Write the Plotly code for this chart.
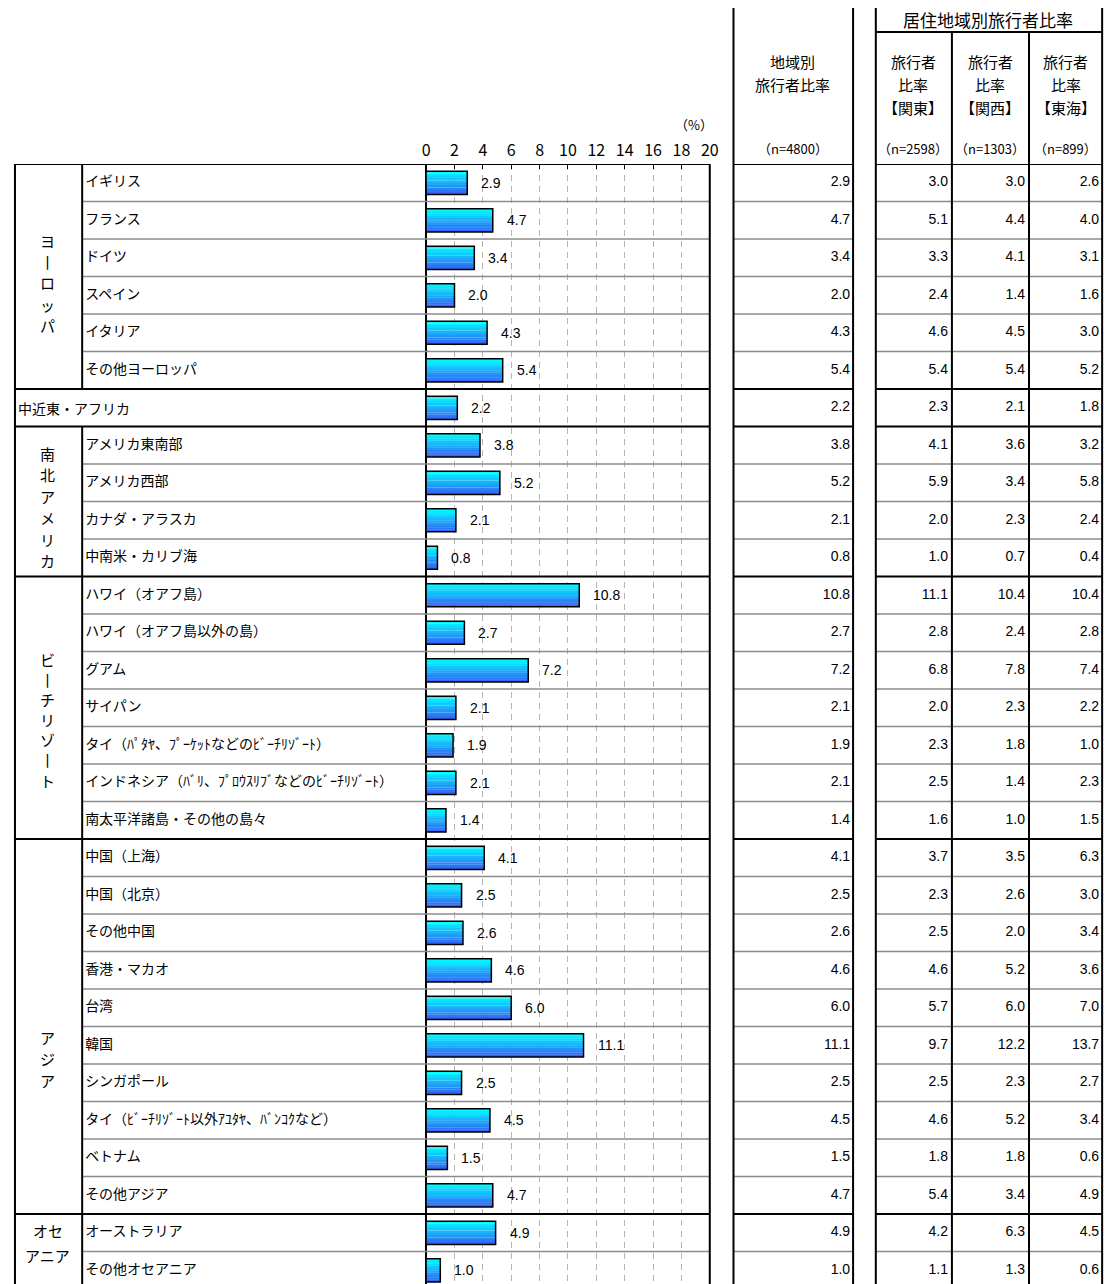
import plotly.graph_objects as go

# ---------------- data ----------------
items = [
    "イギリス", "フランス", "ドイツ", "スペイン", "イタリア", "その他ヨーロッパ",
    "中近東・アフリカ",
    "アメリカ東南部", "アメリカ西部", "カナダ・アラスカ", "中南米・カリブ海",
    "ハワイ（オアフ島）", "ハワイ（オアフ島以外の島）", "グアム", "サイパン",
    "タイ（ﾊﾟﾀﾔ、ﾌﾟｰｹｯﾄなどのﾋﾞｰﾁﾘｿﾞｰﾄ）",
    "インドネシア（ﾊﾞﾘ、ﾌﾟﾛｳｽﾘﾌﾞなどのﾋﾞｰﾁﾘｿﾞｰﾄ）",
    "南太平洋諸島・その他の島々",
    "中国（上海）", "中国（北京）", "その他中国", "香港・マカオ", "台湾", "韓国",
    "シンガポール", "タイ（ﾋﾞｰﾁﾘｿﾞｰﾄ以外ｱﾕﾀﾔ、ﾊﾞﾝｺｸなど）", "ベトナム", "その他アジア",
    "オーストラリア", "その他オセアニア",
]
total = [2.9, 4.7, 3.4, 2.0, 4.3, 5.4, 2.2, 3.8, 5.2, 2.1, 0.8, 10.8, 2.7, 7.2, 2.1,
         1.9, 2.1, 1.4, 4.1, 2.5, 2.6, 4.6, 6.0, 11.1, 2.5, 4.5, 1.5, 4.7, 4.9, 1.0]
kanto = [3.0, 5.1, 3.3, 2.4, 4.6, 5.4, 2.3, 4.1, 5.9, 2.0, 1.0, 11.1, 2.8, 6.8, 2.0,
         2.3, 2.5, 1.6, 3.7, 2.3, 2.5, 4.6, 5.7, 9.7, 2.5, 4.6, 1.8, 5.4, 4.2, 1.1]
kansai = [3.0, 4.4, 4.1, 1.4, 4.5, 5.4, 2.1, 3.6, 3.4, 2.3, 0.7, 10.4, 2.4, 7.8, 2.3,
          1.8, 1.4, 1.0, 3.5, 2.6, 2.0, 5.2, 6.0, 12.2, 2.3, 5.2, 1.8, 3.4, 6.3, 1.3]
tokai = [2.6, 4.0, 3.1, 1.6, 3.0, 5.2, 1.8, 3.2, 5.8, 2.4, 0.4, 10.4, 2.8, 7.4, 2.2,
         1.0, 2.3, 1.5, 6.3, 3.0, 3.4, 3.6, 7.0, 13.7, 2.7, 3.4, 0.6, 4.9, 4.5, 0.6]

group_names = ["ヨーロッパ", "中近東・アフリカ", "南北アメリカ", "ビーチリゾート", "アジア", "オセアニア"]
group_first = [0, 6, 7, 11, 18, 28]
group_last = [5, 6, 10, 17, 27, 29]

tick_vals = list(range(0, 21, 2))
col_titles = [["旅行者", "比率", "【関東】"], ["旅行者", "比率", "【関西】"], ["旅行者", "比率", "【東海】"]]
col_n = ["（n=2598）", "（n=1303）", "（n=899）"]
total_title = ["地域別", "旅行者比率"]
total_n = "（n=4800）"
table2_title = "居住地域別旅行者比率"

# ---------------- layout constants (reference pixel space) ----------------
W, H = 1115, 1284
OFF = 8            # page body margin: figure pixel 0 == reference pixel 8
TOP = 164          # reference pixel of table top (row boundary -0.5)
ROW = 37.5         # pixel height of a row
n = len(items)
rows = list(range(n))
y_bottom = -0.5 + (H + OFF - TOP) / ROW

JP = "Noto Sans CJK JP"
NUM = "Liberation Sans"

def px(x):
    return (x - OFF) / W

def py(y):
    return 1 - (y - OFF) / H

fig = go.Figure()

# gradient bars: horizontal slices from cyan (top) to blue (bottom)
BW = 0.62
NS = 10
c0 = (0, 250, 255)
c1 = (50, 100, 245)
for k in range(NS):
    t = k / (NS - 1)
    col = "rgb(%d,%d,%d)" % tuple(round(c0[i] + (c1[i] - c0[i]) * t) for i in range(3))
    fig.add_trace(go.Bar(
        x=total, y=rows, orientation="h",
        width=BW / NS + 0.004, offset=-BW / 2 + k * BW / NS,
        marker=dict(color=col, line=dict(width=0)),
        hoverinfo="skip", showlegend=False, xaxis="x", yaxis="y",
    ))
# outline
fig.add_trace(go.Bar(
    x=total, y=rows, orientation="h", width=BW, offset=-BW / 2,
    marker=dict(color="rgba(0,0,0,0)", line=dict(color="black", width=1.5)),
    hoverinfo="skip", showlegend=False, xaxis="x", yaxis="y",
))

# table texts (x2 axis is in reference pixel units)
def add_text(xpix, vals, pos, font):
    fig.add_trace(go.Scatter(
        x=[xpix] * n, y=rows, text=vals, mode="text", textposition=pos,
        textfont=font, hoverinfo="skip", showlegend=False, xaxis="x2", yaxis="y",
    ))

item_text = [("" if i == 6 else items[i]) for i in rows]
numfont = dict(family=NUM, size=14, color="black")
add_text(82, item_text, "middle right", dict(family=JP, size=14, color="black"))
add_text(856, ["%.1f" % v for v in total], "middle left", numfont)
add_text(955, ["%.1f" % v for v in kanto], "middle left", numfont)
add_text(1033, ["%.1f" % v for v in kansai], "middle left", numfont)
add_text(1108, ["%.1f" % v for v in tokai], "middle left", numfont)

annotations = []
# bar value labels
for i, v in enumerate(total):
    annotations.append(dict(
        x=v, y=i, xref="x", yref="y", text="%.1f" % v, showarrow=False,
        xanchor="left", xshift=12, font=numfont,
    ))

def head(x, y, text, size, xanchor="center"):
    annotations.append(dict(x=px(x), y=py(y), xref="paper", yref="paper", text=text,
                            showarrow=False, xanchor=xanchor, yanchor="middle",
                            font=dict(family=JP, size=size, color="black")))

# group labels (vertical writing: one glyph per line)
group_char_start = [240, None, 453, 660, 1037, 1230]
group_char_step = [21.5, None, 21.5, 20.0, 21.5, 25]
for name, first, last, y0, step in zip(group_names, group_first, group_last,
                                       group_char_start, group_char_step):
    if name == "中近東・アフリカ":
        annotations.append(dict(x=px(12), y=first, xref="paper", yref="y", text=name,
                                showarrow=False, xanchor="left", yanchor="middle",
                                font=dict(family=JP, size=14, color="black")))
        continue
    if name == "オセアニア":
        lines = ["オセ", "アニア"]
    else:
        lines = ["丨" if ch == "ー" else ch for ch in name]
    for k, ch in enumerate(lines):
        head(44, y0 + k * step, ch, 15)

# headers
head(719, 124, "（%）", 13, "right")
for line, ly in zip(total_title, [62, 85]):
    head(798, ly, line, 15)
head(798, 148, total_n, 13)
head(996, 19, table2_title, 17)
for cx, t, nn in zip([920, 998, 1074], col_titles, col_n):
    for line, ly in zip(t, [62, 85, 107]):
        head(cx, ly, line, 15)
    head(cx, 148, nn, 13)

# ---------------- lines ----------------
shapes = []
BLACK = dict(color="black", width=2)
GRAY = dict(color="#8c8c8c", width=1.6)

def hline_row(yv, x0, x1, line):
    shapes.append(dict(type="line", xref="paper", yref="y", x0=px(x0), x1=px(x1),
                       y0=yv, y1=yv, line=line, layer="above"))

def vline_pix(x, y0, y1, line=BLACK):
    shapes.append(dict(type="line", xref="paper", yref="paper", x0=px(x), x1=px(x),
                       y0=py(y0), y1=py(y1), line=line, layer="above"))

def hline_pix(y, x0, x1, line=BLACK):
    shapes.append(dict(type="line", xref="paper", yref="paper", x0=px(x0), x1=px(x1),
                       y0=py(y), y1=py(y), line=line, layer="above"))

group_bounds = set([-0.5] + [g + 0.5 for g in group_last])
for b in [i + 0.5 for i in range(-1, n - 1)]:
    if b in group_bounds:
        hline_row(b, 10, 714, BLACK)
        hline_row(b, 738, 859, BLACK)
        hline_row(b, 882, 1111, BLACK)
    else:
        hline_row(b, 79, 714, GRAY)
        hline_row(b, 738, 859, GRAY)
        hline_row(b, 882, 1111, GRAY)

BOT = H + OFF
# left table verticals
vline_pix(11, TOP, BOT)
vline_pix(79, TOP, TOP + 6 * ROW)
vline_pix(79, TOP + 7 * ROW, BOT)
vline_pix(714, TOP, BOT)
# table 1
hline_pix(7, 738, 859)
vline_pix(738, 7, BOT)
vline_pix(859, 7, BOT)
# table 2
hline_pix(7, 882, 1111)
hline_pix(32, 882, 1111)
vline_pix(882, 7, BOT)
vline_pix(1111, 7, BOT)
vline_pix(959, 32, BOT)
vline_pix(1037, 32, BOT)

fig.update_layout(
    width=W, height=H, autosize=False,
    margin=dict(l=0, r=0, t=0, b=0, pad=0),
    paper_bgcolor="white", plot_bgcolor="rgba(0,0,0,0)",
    barmode="overlay", showlegend=False,
    annotations=annotations, shapes=shapes,
    xaxis=dict(
        domain=[px(427), px(714)], range=[0, 20], side="top", anchor="y",
        tickvals=tick_vals, ticktext=[str(v) for v in tick_vals],
        ticks="inside", ticklen=5, tickcolor="black", tickwidth=1,
        tickfont=dict(family=JP, size=16, color="black"), ticklabelstandoff=4,
        showgrid=True, gridcolor="#b4b4b4", gridwidth=1, griddash="6px,5px",
        zeroline=True, zerolinecolor="black", zerolinewidth=2,
        showline=False, fixedrange=True,
    ),
    xaxis2=dict(domain=[0, 1], range=[OFF, W + OFF], anchor="y", visible=False, fixedrange=True),
    yaxis=dict(
        domain=[0, py(TOP)], range=[y_bottom, -0.5], visible=False, fixedrange=True,
    ),
)

fig.write_html("out.html")
